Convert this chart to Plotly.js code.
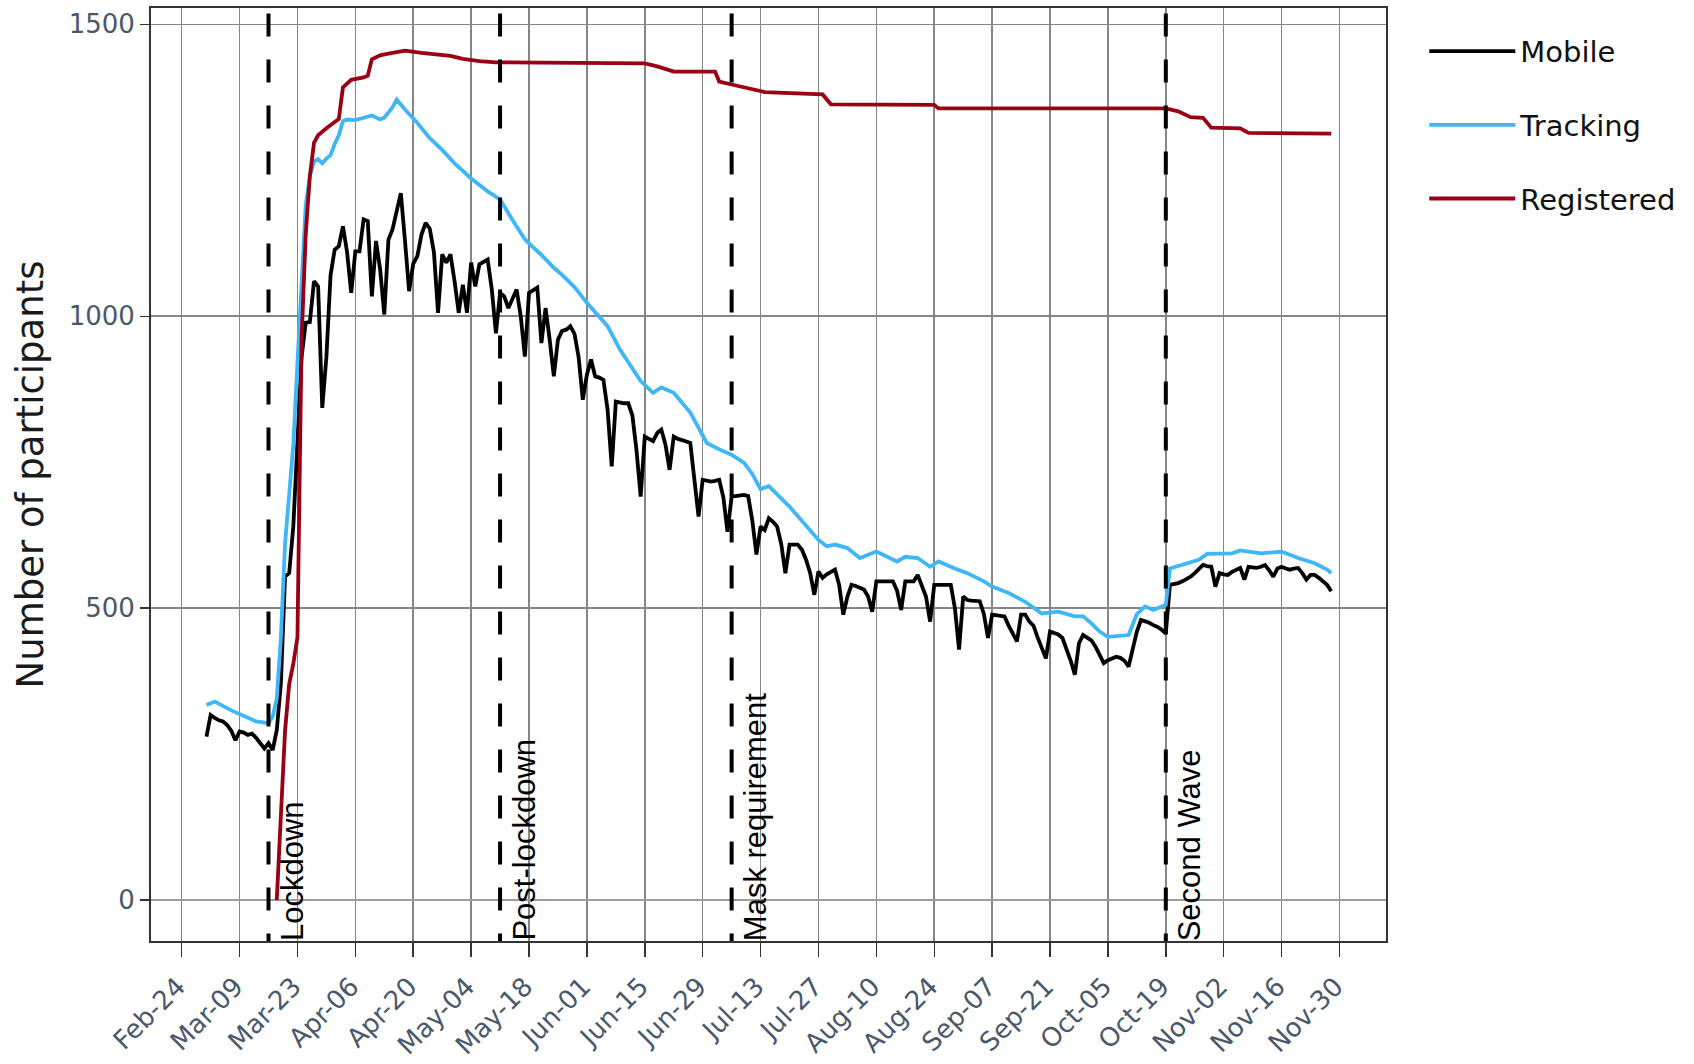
<!DOCTYPE html>
<html>
<head>
<meta charset="utf-8">
<script src="https://cdn.plot.ly/plotly-3.0.1.min.js"></script>
<style>
  html, body { margin: 0; padding: 0; background: #fff; }
  #chart { width: 1694px; height: 1064px; }
</style>
</head>
<body>
<div id="chart"></div>
<script>
// ---------------- DATA ----------------
// Mobile: daily values starting 2020-03-01
const mobileStart = '2020-03-01';
const mobileValues = [
  280, 317, 312, 308, 306, 300, 290, 274, 289, 287,
  283, 285, 278, 269, 260, 269, 257, 291, 372, 554,
  560, 640, 790, 930, 989, 990, 1060, 1051, 843, 930,
  1070, 1114, 1120, 1154, 1110, 1040, 1111, 1111, 1166, 1163,
  1034, 1129, 1080, 1003, 1131, 1149, 1180, 1211, 1130, 1043,
  1090, 1103, 1140, 1160, 1150, 1110, 1006, 1106, 1092, 1106,
  1060, 1006, 1054, 1006, 1092, 1051, 1089, 1093, 1097, 1046,
  971, 1040, 1034, 1014, 1030, 1046, 1000, 931, 1040, 1045,
  1049, 954, 1014, 960, 897, 960, 975, 977, 983, 970,
  930, 857, 900, 926, 897, 895, 891, 840, 743, 854,
  852, 851, 851, 830, 770, 691, 794, 790, 786, 800,
  806, 780, 737, 794, 790, 788, 786, 783, 720, 657,
  720, 718, 717, 718, 720, 690, 631, 691, 692, 694,
  694, 692, 650, 592, 640, 634, 654, 648, 640, 610,
  560, 609, 609, 609, 600, 583, 560, 523, 563, 552,
  558, 562, 566, 540, 489, 520, 540, 538, 535, 532,
  520, 494, 546, 546, 546, 546, 546, 530, 497, 546,
  546, 546, 557, 540, 520, 477, 540, 540, 540, 540,
  540, 500, 429, 520, 514, 513, 512, 512, 490, 449,
  489, 488, 487, 486, 470, 455, 443, 489, 489, 477,
  470, 450, 430, 414, 460, 458, 455, 449, 430, 410,
  386, 440, 454, 449, 445, 434, 420, 406, 411, 414,
  417, 415, 410, 400, 434, 460, 480, 478, 475, 471,
  468, 463, 457, 540, 541, 543, 546, 550, 554, 560,
  568, 574, 572, 571, 537, 560, 558, 557, 562, 566,
  569, 549, 571, 570, 569, 571, 574, 565, 554, 568,
  571, 568, 566, 568, 569, 560, 549, 557, 557, 552,
  546, 540, 529
];

const trackingDates = [
  '2020-03-01','2020-03-03','2020-03-07','2020-03-11','2020-03-13','2020-03-16','2020-03-17',
  '2020-03-18','2020-03-19','2020-03-20','2020-03-21','2020-03-22','2020-03-23','2020-03-24',
  '2020-03-25','2020-03-26','2020-03-27','2020-03-28','2020-03-29','2020-03-30','2020-03-31',
  '2020-04-01','2020-04-02','2020-04-03','2020-04-04','2020-04-06','2020-04-08','2020-04-10',
  '2020-04-12','2020-04-13','2020-04-15','2020-04-16','2020-04-18','2020-04-21','2020-04-24',
  '2020-04-27','2020-04-30','2020-05-04','2020-05-08','2020-05-11','2020-05-14','2020-05-17',
  '2020-05-19','2020-05-21','2020-05-24','2020-05-26','2020-05-29','2020-06-01','2020-06-06',
  '2020-06-09','2020-06-14','2020-06-17','2020-06-19','2020-06-22','2020-06-26','2020-06-30',
  '2020-07-03','2020-07-06','2020-07-09','2020-07-11','2020-07-13','2020-07-15','2020-07-20',
  '2020-07-24','2020-07-27','2020-07-29','2020-07-31','2020-08-03','2020-08-06','2020-08-10',
  '2020-08-15','2020-08-17','2020-08-20','2020-08-23','2020-08-25','2020-08-29','2020-09-01',
  '2020-09-05','2020-09-07','2020-09-11','2020-09-15','2020-09-19','2020-09-23','2020-09-27',
  '2020-09-29','2020-10-01','2020-10-03','2020-10-05','2020-10-07','2020-10-10','2020-10-12',
  '2020-10-14','2020-10-16','2020-10-19','2020-10-20','2020-10-24','2020-10-27','2020-10-29',
  '2020-11-04','2020-11-06','2020-11-11','2020-11-16','2020-11-20','2020-11-24','2020-11-27',
  '2020-11-28'
];
const trackingValues = [
  334, 340, 325, 312, 306, 303, 314,
  345, 450, 610, 700, 780, 920, 1060,
  1190, 1240, 1265, 1269, 1262, 1270, 1276,
  1295, 1310, 1334, 1337, 1336, 1340, 1344,
  1337, 1340, 1358, 1371, 1354, 1331, 1305,
  1285, 1262, 1236, 1214, 1200, 1165, 1132,
  1118, 1105, 1083, 1071, 1050, 1023, 983,
  943, 889, 869, 878, 869, 835, 783,
  772, 763, 749, 730, 704, 709, 674,
  640, 617, 606, 609, 603, 586, 597,
  580, 588, 586, 571, 580, 568, 560,
  546, 537, 526, 511, 491, 494, 486,
  486, 474, 460, 451, 452, 454, 490,
  503, 497, 506, 568, 577, 583, 593,
  594, 599, 594, 597, 586, 577, 566,
  560
];

const registeredDates = [
  '2020-03-18','2020-03-19','2020-03-20','2020-03-21','2020-03-22','2020-03-23','2020-03-24',
  '2020-03-25','2020-03-26','2020-03-27','2020-03-28','2020-03-30','2020-03-31','2020-04-02',
  '2020-04-03','2020-04-05','2020-04-08','2020-04-09','2020-04-10','2020-04-12','2020-04-14',
  '2020-04-18','2020-04-22','2020-04-26','2020-04-29','2020-05-02','2020-05-06','2020-05-10',
  '2020-06-15','2020-06-18','2020-06-22','2020-07-02','2020-07-03','2020-07-06','2020-07-10',
  '2020-07-14','2020-07-28','2020-07-30','2020-08-24','2020-08-25','2020-10-19','2020-10-22',
  '2020-10-25','2020-10-28','2020-10-30','2020-11-06','2020-11-08','2020-11-28'
];
const registeredValues = [
  0, 150, 290, 370, 405, 450, 960,
  1140, 1240, 1297, 1310, 1322, 1328, 1338,
  1392, 1405, 1409, 1412, 1440, 1447, 1450,
  1455, 1451, 1448, 1446, 1441, 1437, 1435,
  1433, 1428, 1419, 1419, 1402, 1397, 1390,
  1384, 1380, 1363, 1362, 1356, 1356, 1351,
  1341, 1340, 1323, 1322, 1314, 1313
];

const eventDates  = ['2020-03-16', '2020-05-11', '2020-07-06', '2020-10-19'];
const eventLabels = ['Lockdown', 'Post-lockdown', 'Mask requirement', 'Second Wave'];

const xTickDates = ['2020-02-24','2020-03-09','2020-03-23','2020-04-06','2020-04-20','2020-05-04',
  '2020-05-18','2020-06-01','2020-06-15','2020-06-29','2020-07-13','2020-07-27','2020-08-10',
  '2020-08-24','2020-09-07','2020-09-21','2020-10-05','2020-10-19','2020-11-02','2020-11-16','2020-11-30'];
const xTickLabels = ['Feb-24','Mar-09','Mar-23','Apr-06','Apr-20','May-04','May-18','Jun-01',
  'Jun-15','Jun-29','Jul-13','Jul-27','Aug-10','Aug-24','Sep-07','Sep-21','Oct-05','Oct-19',
  'Nov-02','Nov-16','Nov-30'];
const yTickVals = [0, 500, 1000, 1500];

const seriesNames = ['Mobile', 'Tracking', 'Registered'];
const seriesColors = ['#000000', '#3fb6f7', '#9a0013'];

// consecutive daily dates for the mobile series
function dailyDates(start, n) {
  const p = start.split('-').map(Number);
  const out = [];
  for (let i = 0; i < n; i++) {
    const d = new Date(Date.UTC(p[0], p[1] - 1, p[2] + i));
    out.push(d.toISOString().slice(0, 10));
  }
  return out;
}
const mobileDates = dailyDates(mobileStart, mobileValues.length);

// ---------------- PLOT ----------------
const traces = [
  { x: mobileDates, y: mobileValues },
  { x: trackingDates, y: trackingValues },
  { x: registeredDates, y: registeredValues }
].map((t, i) => ({
  type: 'scatter', mode: 'lines',
  x: t.x, y: t.y,
  name: seriesNames[i],
  legendgroup: 'g' + i,
  line: { color: seriesColors[i], width: 3.8 },
  hoverinfo: 'x+y+name'
}));

const tickFont = { family: 'DejaVu Sans, Verdana, sans-serif', size: 26, color: '#48586c' };

const shapes = eventDates.map(d => ({
  type: 'line', xref: 'x', yref: 'paper',
  x0: d, x1: d, y0: 0.994, y1: 0,
  line: { color: '#000', width: 4, dash: '23px,23px' }
}));

const annotations = eventDates.map((d, i) => ({
  x: d, xref: 'x', y: 0, yref: 'paper',
  text: eventLabels[i], showarrow: false, textangle: -90,
  xanchor: 'left', yanchor: 'bottom', xshift: 4, yshift: -2,
  font: { family: 'Liberation Sans, Arial, sans-serif', size: 31, color: '#000' }
}));

const layout = {
  width: 1694, height: 1064,
  margin: { l: 151, r: 308, t: 8, b: 123 },
  paper_bgcolor: '#fff', plot_bgcolor: '#fff',
  showlegend: true,
  legend: {
    x: 1.031, y: 0.981, xanchor: 'left', yanchor: 'top',
    traceorder: 'grouped', tracegroupgap: 33, itemwidth: 86,
    font: { family: 'DejaVu Sans, Verdana, sans-serif', size: 29, color: '#111' },
    bgcolor: 'rgba(0,0,0,0)'
  },
  xaxis: {
    type: 'date',
    range: ['2020-02-16 14:00', '2020-12-11 06:00'],
    tickmode: 'array', tickvals: xTickDates, ticktext: xTickLabels,
    tickangle: -45, tickfont: tickFont,
    ticklabelstandoff: 4, ticklabelshift: -4,
    ticks: 'outside', ticklen: 14, tickwidth: 1.5, tickcolor: '#333',
    showgrid: true, gridcolor: '#868686', gridwidth: 1.6,
    showline: true, linecolor: '#333', linewidth: 2, mirror: true,
    zeroline: false
  },
  yaxis: {
    range: [-70, 1528],
    tickmode: 'array', tickvals: yTickVals,
    tickfont: tickFont,
    ticks: 'outside', ticklen: 9, tickwidth: 1.5, tickcolor: '#333',
    showgrid: true, gridcolor: '#868686', gridwidth: 1.6,
    zeroline: true, zerolinecolor: '#9c9c9c', zerolinewidth: 2.5,
    showline: true, linecolor: '#333', linewidth: 2, mirror: true,
    title: { text: 'Number of participants', standoff: 14,
      font: { family: 'DejaVu Sans, Verdana, sans-serif', size: 37, color: '#1a1a1a' } }
  },
  shapes: shapes,
  annotations: annotations
};

Plotly.newPlot('chart', traces, layout, { displayModeBar: false, staticPlot: true });
</script>
</body>
</html>
